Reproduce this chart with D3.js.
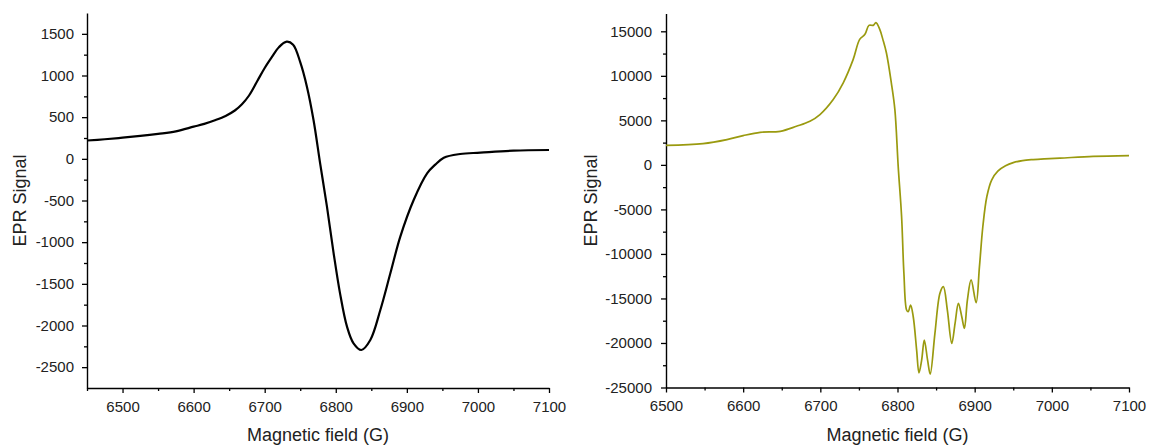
<!DOCTYPE html>
<html>
<head>
<meta charset="utf-8">
<script src="https://cdn.jsdelivr.net/npm/d3@7"></script>
<style>
  html, body { margin: 0; padding: 0; background: #fff; }
  svg { display: block; font-family: Arial, "Liberation Sans", sans-serif; }
</style>
</head>
<body>
<svg id="chart" width="1149" height="447"></svg>
<script>
// ---- Left panel data (black trace) ----
const leftField = [6450, 6475, 6500, 6525, 6550, 6575, 6600, 6615, 6631, 6645, 6658, 6668, 6678, 6690, 6700, 6710, 6720, 6731, 6740, 6750, 6759.4, 6768.7, 6778, 6787.6, 6797, 6806, 6815.8, 6825, 6836, 6848.6, 6862.7, 6876.8, 6890.8, 6909.6, 6928.5, 6940, 6952, 6975, 7003.5, 7050, 7100];
const leftSignal = [220, 235, 254, 275, 300, 330, 386, 420, 466, 515, 580, 655, 760, 940, 1090, 1220, 1340, 1406, 1370, 1160, 866, 466, -54, -574, -1134, -1614, -2014, -2214, -2294, -2174, -1814, -1374, -934, -494, -174, -70, 14, 58, 74, 98, 106];

// ---- Right panel data (olive trace) ----
const rightField = [6500, 6548, 6579, 6600, 6622, 6648, 6669, 6686.5, 6699.5, 6716.7, 6729.7, 6742.6, 6751, 6757.8, 6763, 6768.6, 6772, 6777, 6781, 6785.6, 6792, 6796.6, 6800.9, 6805.3, 6808.3, 6811.8, 6813.9, 6817, 6820.4, 6824.8, 6827.8, 6831.3, 6834.7, 6839, 6842.4, 6848.5, 6855, 6859.4, 6864.6, 6870.3, 6874.6, 6878.9, 6883.3, 6886.7, 6890.6, 6895.4, 6901.9, 6906.2, 6910.6, 6915.8, 6922, 6930, 6940, 6950, 6962, 6975.7, 6990, 7010.4, 7053.5, 7100];
const rightSignal = [2195, 2387, 2837, 3287, 3659, 3771, 4334, 4897, 5651, 7340, 9220, 11843, 14095, 14657, 15670, 15670, 15970, 15220, 14095, 12597, 9220, 6214, -169, -5798, -12170, -16300, -16490, -15740, -17055, -20800, -23360, -21930, -19680, -21930, -23500, -18920, -14420, -13680, -16300, -20050, -17800, -15550, -17055, -18360, -15170, -12920, -15480, -11430, -6920, -3546, -1700, -700, -100, 250, 480, 600, 680, 760, 957, 1050];

// ---- Tick values ----
const xMajorTicks = [6500, 6600, 6700, 6800, 6900, 7000, 7100];
const leftXMinor = [6450, 6550, 6650, 6750, 6850, 6950, 7050];
const rightXMinor = [6550, 6650, 6750, 6850, 6950, 7050];
const leftYMajor = [-2500, -2000, -1500, -1000, -500, 0, 500, 1000, 1500];
const leftYMinor = [-2250, -1750, -1250, -750, -250, 250, 750, 1250];
const rightYMajor = [-25000, -20000, -15000, -10000, -5000, 0, 5000, 10000, 15000];
const rightYMinor = [-22500, -17500, -12500, -7500, -2500, 2500, 7500, 12500];

const xTitle = "Magnetic field (G)";
const yTitle = "EPR Signal";

const svg = d3.select("#chart");
const fmt = d => String(d);

function panel(cfg) {
  const x = d3.scaleLinear().domain(cfg.xDomain).range([cfg.left, cfg.right]);
  const y = d3.scaleLinear().domain(cfg.yDomain).range([cfg.bottom, cfg.top]);
  const g = svg.append("g");

  // minor ticks
  g.append("g").attr("transform", `translate(0,${cfg.bottom})`)
    .call(d3.axisBottom(x).tickValues(cfg.xMinor).tickSize(3).tickFormat(""))
    .call(a => a.select(".domain").remove())
    .selectAll("line").attr("stroke", "#000").attr("stroke-width", 1.3);
  g.append("g").attr("transform", `translate(${cfg.left},0)`)
    .call(d3.axisLeft(y).tickValues(cfg.yMinor).tickSize(3).tickFormat(""))
    .call(a => a.select(".domain").remove())
    .selectAll("line").attr("stroke", "#000").attr("stroke-width", 1.3);

  // major axes
  const xa = g.append("g").attr("transform", `translate(0,${cfg.bottom})`)
    .call(d3.axisBottom(x).tickValues(cfg.xMajor).tickSize(5).tickSizeOuter(0).tickPadding(8).tickFormat(fmt));
  const ya = g.append("g").attr("transform", `translate(${cfg.left},0)`)
    .call(d3.axisLeft(y).tickValues(cfg.yMajor).tickSize(5).tickSizeOuter(0).tickPadding(cfg.yPad).tickFormat(fmt));
  [xa, ya].forEach(a => {
    a.select(".domain").attr("stroke", "#000").attr("stroke-width", 1.4);
    a.selectAll(".tick line").attr("stroke", "#000").attr("stroke-width", 1.3);
    a.selectAll(".tick text").attr("font-size", 15).attr("fill", "#222")
      .attr("font-family", "Arial, 'Liberation Sans', sans-serif");
  });

  // trace
  const line = d3.line().x((d, i) => x(cfg.xs[i])).y((d, i) => y(cfg.ys[i])).curve(d3.curveCatmullRom.alpha(0.5));
  g.append("path").datum(cfg.ys).attr("d", line)
    .attr("fill", "none").attr("stroke", cfg.color).attr("stroke-width", cfg.width)
    .attr("stroke-linejoin", "round");

  // titles
  g.append("text").attr("x", (cfg.left + cfg.right) / 2).attr("y", 441)
    .attr("text-anchor", "middle").attr("font-size", 18).attr("fill", "#222").text(xTitle);
  g.append("text").attr("transform", `translate(${cfg.yTitleX},${(cfg.top + cfg.bottom) / 2}) rotate(-90)`)
    .attr("text-anchor", "middle").attr("font-size", 18).attr("fill", "#222").text(yTitle);
}

panel({
  left: 87, right: 549, top: 13, bottom: 388,
  xDomain: [6450, 7100], yDomain: [-2750, 1750],
  xMajor: xMajorTicks, xMinor: leftXMinor, yMajor: leftYMajor, yMinor: leftYMinor,
  xs: leftField, ys: leftSignal, color: "#000", width: 2.2, yPad: 8, yTitleX: 26
});

panel({
  left: 666, right: 1129, top: 13.5, bottom: 387.5,
  xDomain: [6500, 7100], yDomain: [-25000, 17000],
  xMajor: xMajorTicks, xMinor: rightXMinor, yMajor: rightYMajor, yMinor: rightYMinor,
  xs: rightField, ys: rightSignal, color: "#9a9a0f", width: 1.7, yPad: 9, yTitleX: 597
});
</script>
</body>
</html>
